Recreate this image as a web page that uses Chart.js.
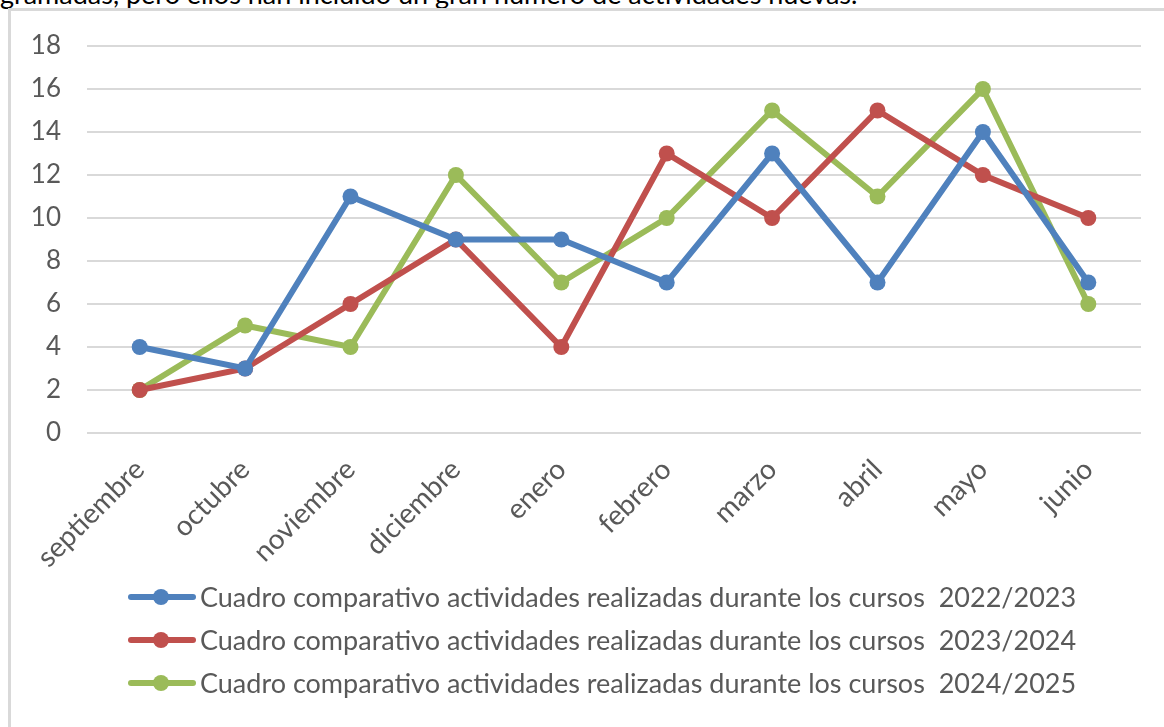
<!DOCTYPE html>
<html>
<head>
<meta charset="utf-8">
<script src="https://cdn.jsdelivr.net/npm/chart.js@4/dist/chart.umd.min.js"></script>
<style>
  body { margin: 0; background: #fff; overflow: hidden; }
  .top-text {
    position: absolute; left: 0; top: -23px;
    font-family: Lato, sans-serif; font-size: 27px; color: #000; white-space: nowrap;
  }
  .frame {
    position: absolute; left: 8px; top: 8px; width: 1200px; height: 740px;
    border-top: 3px solid #d9d9d9; border-left: 3px solid #d9d9d9; background: #fff;
  }
  #chart { position: absolute; left: 0; top: 0; }
</style>
</head>
<body>
<div class="top-text">gramadas, pero ellos han incluido un gran número de actividades nuevas.</div>
<div class="frame">
  <canvas id="chart" width="1153" height="716"></canvas>
</div>
<script>
// Actividades por mes, tres cursos
const months = ['septiembre', 'octubre', 'noviembre', 'diciembre', 'enero', 'febrero', 'marzo', 'abril', 'mayo', 'junio'];
const curso2223 = [4, 3, 11, 9, 9, 7, 13, 7, 14, 7];
const curso2324 = [2, 3, 6, 9, 4, 13, 10, 15, 12, 10];
const curso2425 = [2, 5, 4, 12, 7, 10, 15, 11, 16, 6];
const seriesNames = [
  'Cuadro comparativo actividades realizadas durante los cursos  2022/2023',
  'Cuadro comparativo actividades realizadas durante los cursos  2023/2024',
  'Cuadro comparativo actividades realizadas durante los cursos  2024/2025'
];
const colors = ['#4f81bd', '#c0504d', '#9bbb59'];

const FONT = 'Lato, sans-serif';
const TXT = '#595959';

function makeSeries(label, data, color) {
  return {
    label: label,
    data: data,
    borderColor: color,
    backgroundColor: color,
    borderWidth: 6,
    pointRadius: 8,
    pointHoverRadius: 8,
    pointBorderWidth: 0,
    tension: 0
  };
}

// legend drawn under the axis, one row per series
const legendRows = {
  id: 'legendRows',
  afterDraw(chart) {
    const ctx = chart.ctx;
    ctx.save();
    chart.data.datasets.forEach((ds, i) => {
      const y = 586 + i * 43;
      ctx.strokeStyle = ds.borderColor;
      ctx.lineWidth = 6;
      ctx.lineCap = 'round';
      ctx.beginPath();
      ctx.moveTo(120, y);
      ctx.lineTo(182, y);
      ctx.stroke();
      ctx.fillStyle = ds.borderColor;
      ctx.beginPath();
      ctx.arc(150, y, 8, 0, Math.PI * 2);
      ctx.fill();
      ctx.fillStyle = TXT;
      ctx.font = '27px ' + FONT;
      ctx.textBaseline = 'middle';
      ctx.textAlign = 'left';
      ctx.fillText(ds.label, 189, y + 1);
    });
    ctx.restore();
  }
};

new Chart(document.getElementById('chart'), {
  type: 'line',
  data: {
    labels: months,
    datasets: [
      makeSeries(seriesNames[0], curso2223, colors[0]),
      makeSeries(seriesNames[1], curso2324, colors[1]),
      makeSeries(seriesNames[2], curso2425, colors[2])
    ]
  },
  plugins: [legendRows],
  options: {
    responsive: false,
    animation: false,
    layout: { padding: { top: 35, right: 23, bottom: 0, left: 0 } },
    plugins: { legend: { display: false }, tooltip: { enabled: false } },
    scales: {
      x: {
        offset: true,
        grid: { display: false },
        border: { display: false },
        ticks: {
          color: TXT, font: { family: FONT, size: 28 },
          maxRotation: 45, minRotation: 45, padding: 12, autoSkip: false
        },
        afterFit(scale) { scale.height = 294; }
      },
      y: {
        min: 0, max: 18,
        grid: { color: '#d9d9d9', lineWidth: 2, drawTicks: false },
        border: { display: false },
        ticks: { stepSize: 2, color: TXT, font: { family: FONT, size: 26 }, padding: 26 },
        afterFit(scale) {
          scale.width = 76;
          scale.paddingTop = 0;
          scale.paddingBottom = 0;
        }
      }
    }
  }
});
</script>
</body>
</html>
